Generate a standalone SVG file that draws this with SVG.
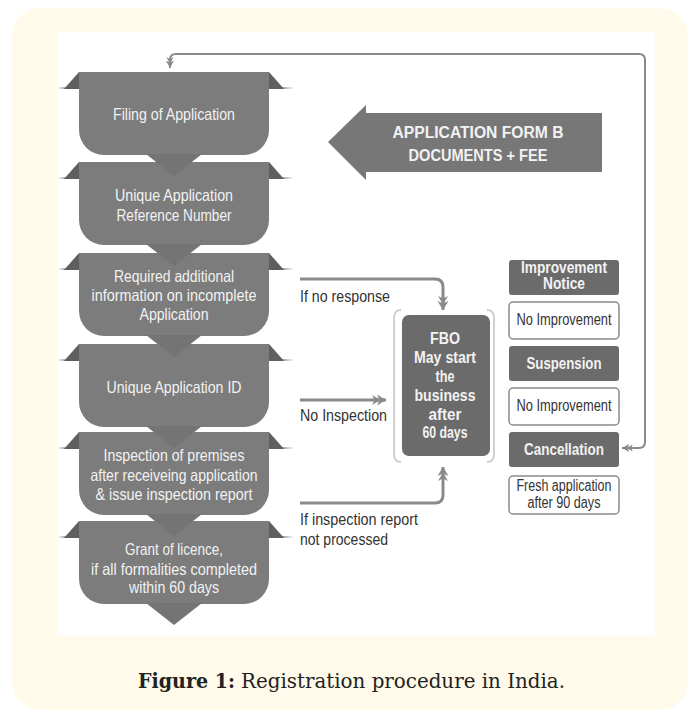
<svg xmlns="http://www.w3.org/2000/svg" width="690" height="717" viewBox="0 0 690 717">
<style>
.bg{fill:#fffaea}
.panel{fill:#ffffff}
.shape{fill:#7c7c7c}
.ptr{fill:#747474}
.flap{fill:#5f5f5f}
.st{font-family:"Liberation Sans",Arial,sans-serif;font-size:16.5px;fill:#f2f2f2;text-anchor:middle}
.lbl{font-family:"Liberation Sans",Arial,sans-serif;font-size:16px;fill:#333333}
.dark{fill:#6b6b6b}
.wbox{fill:#ffffff;stroke:#8a8a8a;stroke-width:1.5}
.bt{font-family:"Liberation Sans",Arial,sans-serif;font-size:16px;font-weight:bold;fill:#f2f2f2;text-anchor:middle}
.rt{font-family:"Liberation Sans",Arial,sans-serif;font-size:16px;fill:#333333;text-anchor:middle}
.conn{fill:none;stroke:#8a8a8a;stroke-width:3}
.loop{fill:none;stroke:#8a8a8a;stroke-width:2}
.brk{fill:none;stroke:#d0d0d0;stroke-width:2}
.cap{font-family:"DejaVu Serif","Liberation Serif",serif;font-size:20px;fill:#222222}
</style>
<defs>
<linearGradient id="fadeL" x1="0" x2="1" y1="0" y2="0">
<stop offset="0" stop-color="#ffffff"/><stop offset="1" stop-color="#9a9a9a"/>
</linearGradient>
<linearGradient id="fadeR" x1="0" x2="1" y1="0" y2="0">
<stop offset="0" stop-color="#9a9a9a"/><stop offset="1" stop-color="#ffffff"/>
</linearGradient>
<marker id="arr" viewBox="0 0 14 12" refX="14" refY="6" markerWidth="14" markerHeight="12" markerUnits="userSpaceOnUse" orient="auto-start-reverse">
<path d="M14,6 L5,0.5 L7.5,6 L5,11.5 Z M8.5,6 L0,1 L2.5,6 L0,11 Z" fill="#8a8a8a"/>
</marker>
<marker id="arrs" viewBox="0 0 12 10" refX="12" refY="5" markerWidth="11" markerHeight="9" markerUnits="userSpaceOnUse" orient="auto-start-reverse">
<path d="M12,5 L4,0.5 L6,5 L4,9.5 Z M7,5 L0,1 L2,5 L0,9 Z" fill="#8a8a8a"/>
</marker>
<g id="sh">
<rect x="58" y="15" width="8" height="2" fill="url(#fadeL)"/>
<rect x="282" y="15" width="12" height="2" fill="url(#fadeR)"/>
<polygon class="flap" points="79,0 79,17 64,17"/>
<polygon class="flap" points="269,0 269,17 284,17"/>
<path class="shape" d="M79,0 H269 V58 A25,25 0 0 1 244,83 H104 A25,25 0 0 1 79,58 Z"/>
<polygon class="ptr" points="146,82 202,82 174,104"/>
</g>
</defs>

<rect class="bg" x="12" y="8" width="676" height="702" rx="28"/>
<rect class="panel" x="57" y="32" width="598" height="604"/>

<g id="n6"><use href="#sh" y="521"/>
<text class="st" x="174" y="555" textLength="98" lengthAdjust="spacingAndGlyphs">Grant of licence,</text>
<text class="st" x="174" y="575" textLength="166" lengthAdjust="spacingAndGlyphs">if all formalities completed</text>
<text class="st" x="174" y="593" textLength="90" lengthAdjust="spacingAndGlyphs">within 60 days</text></g>
<g id="n5"><use href="#sh" y="432"/>
<text class="st" x="174" y="461" textLength="141" lengthAdjust="spacingAndGlyphs">Inspection of premises</text>
<text class="st" x="174" y="481" textLength="167" lengthAdjust="spacingAndGlyphs">after receiveing application</text>
<text class="st" x="174" y="500" textLength="157" lengthAdjust="spacingAndGlyphs">&amp; issue inspection report</text></g>
<g id="n4"><use href="#sh" y="344"/>
<text class="st" x="174" y="393" textLength="135" lengthAdjust="spacingAndGlyphs">Unique Application ID</text></g>
<g id="n3"><use href="#sh" y="253"/>
<text class="st" x="174" y="282" textLength="120" lengthAdjust="spacingAndGlyphs">Required additional</text>
<text class="st" x="174" y="301" textLength="165" lengthAdjust="spacingAndGlyphs">information on incomplete</text>
<text class="st" x="174" y="320" textLength="69" lengthAdjust="spacingAndGlyphs">Application</text></g>
<g id="n2"><use href="#sh" y="162"/>
<text class="st" x="174" y="201" textLength="118" lengthAdjust="spacingAndGlyphs">Unique Application</text>
<text class="st" x="174" y="221" textLength="115" lengthAdjust="spacingAndGlyphs">Reference Number</text></g>
<g id="n1"><use href="#sh" y="72"/>
<text class="st" x="174" y="120" textLength="122" lengthAdjust="spacingAndGlyphs">Filing of Application</text></g>

<g id="formArrow">
<polygon points="328,142 366,105 366,113 602,113 602,172 366,172 366,180" fill="#777777"/>
<text class="bt" x="478" y="138" font-size="18" textLength="171" lengthAdjust="spacingAndGlyphs">APPLICATION FORM B</text>
<text class="bt" x="478" y="161" font-size="18" textLength="139" lengthAdjust="spacingAndGlyphs">DOCUMENTS + FEE</text>
</g>

<g id="fbo">
<path class="brk" d="M401,310 Q394,310 394,318 V454 Q394,462 401,462"/>
<path class="brk" d="M487,310 Q494,310 494,318 V454 Q494,462 487,462"/>
<rect class="dark" x="402" y="315" width="88" height="141" rx="7"/>
<text class="bt" x="445" y="344" textLength="30" lengthAdjust="spacingAndGlyphs">FBO</text>
<text class="bt" x="445" y="363" textLength="62" lengthAdjust="spacingAndGlyphs">May start</text>
<text class="bt" x="445" y="382" textLength="19" lengthAdjust="spacingAndGlyphs">the</text>
<text class="bt" x="445" y="401" textLength="61" lengthAdjust="spacingAndGlyphs">business</text>
<text class="bt" x="445" y="420" textLength="33" lengthAdjust="spacingAndGlyphs">after</text>
<text class="bt" x="445" y="438" textLength="45" lengthAdjust="spacingAndGlyphs">60 days</text>
</g>

<g id="improvementNotice">
<rect class="dark" x="509" y="260" width="110" height="35" rx="3"/>
<text class="bt" x="564" y="272.5" font-size="13.5" textLength="86" lengthAdjust="spacingAndGlyphs">Improvement</text>
<text class="bt" x="564" y="288.5" font-size="13.5" textLength="42" lengthAdjust="spacingAndGlyphs">Notice</text>
</g>
<g id="noImprovement1">
<rect class="wbox" x="509" y="302" width="110" height="37" rx="4"/>
<text class="rt" x="564" y="325" textLength="95" lengthAdjust="spacingAndGlyphs">No Improvement</text>
</g>
<g id="suspension">
<rect class="dark" x="509" y="346" width="110" height="35" rx="3"/>
<text class="bt" x="564" y="369" textLength="75" lengthAdjust="spacingAndGlyphs">Suspension</text>
</g>
<g id="noImprovement2">
<rect class="wbox" x="509" y="388" width="110" height="37" rx="4"/>
<text class="rt" x="564" y="411" textLength="95" lengthAdjust="spacingAndGlyphs">No Improvement</text>
</g>
<g id="cancellation">
<rect class="dark" x="509" y="432" width="110" height="35" rx="3"/>
<text class="bt" x="564" y="455" textLength="80" lengthAdjust="spacingAndGlyphs">Cancellation</text>
</g>
<g id="fresh">
<rect class="wbox" x="509" y="476" width="110" height="38" rx="4"/>
<text class="rt" x="564" y="491" font-size="15" textLength="95" lengthAdjust="spacingAndGlyphs">Fresh application</text>
<text class="rt" x="564" y="508" font-size="15" textLength="73" lengthAdjust="spacingAndGlyphs">after 90 days</text>
</g>

<g id="connectors">
<path class="conn" d="M300,279 H435 Q443,279 443,287 V310" marker-end="url(#arr)"/>
<path class="conn" d="M300,400 H386" marker-end="url(#arr)"/>
<path class="conn" d="M300,503 H435 Q443,503 443,495 V467" marker-end="url(#arr)"/>
<path class="loop" d="M170,68 V60 Q170,54 176,54 H639 Q645,54 645,60 V442 Q645,448 639,448 H622" marker-start="url(#arrs)" marker-end="url(#arrs)"/>
<text class="lbl" x="300" y="302" textLength="90" lengthAdjust="spacingAndGlyphs">If no response</text>
<text class="lbl" x="300" y="421" textLength="87" lengthAdjust="spacingAndGlyphs">No Inspection</text>
<text class="lbl" x="300" y="525" textLength="118" lengthAdjust="spacingAndGlyphs">If inspection report</text>
<text class="lbl" x="300" y="545" textLength="88" lengthAdjust="spacingAndGlyphs">not processed</text>
</g>

<g id="caption">
<text class="cap" x="138" y="688" font-weight="bold" textLength="97" lengthAdjust="spacingAndGlyphs">Figure 1:</text>
<text class="cap" x="241" y="688" textLength="324" lengthAdjust="spacingAndGlyphs">Registration procedure in India.</text>
</g>
</svg>
